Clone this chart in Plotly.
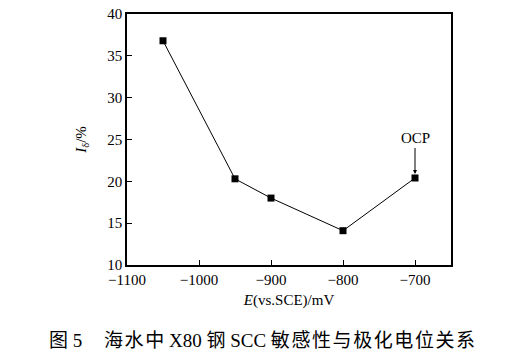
import plotly.graph_objects as go

potential_mV = [-1050, -950, -900, -800, -700]
i_delta_pct = [36.8, 20.3, 18.0, 14.1, 20.4]
x_ticks = [-1100, -1000, -900, -800, -700]
y_ticks = [10, 15, 20, 25, 30, 35, 40]

serif = "Liberation Serif, Times New Roman, serif"
caption_font = "Liberation Serif, Noto Sans CJK SC"
hs = "\u200a"

def spaced(s):
    return hs.join(s)

caption_label = "图 5"
caption_text = spaced("海水中") + " X80 钢 SCC " + spaced("敏感性与极化电位关系")

W, H = 510, 363
L, R, T, B = 127, 59, 14, 98
pw, ph = W - L - R, H - T - B

fig = go.Figure()
fig.add_trace(go.Scatter(
    x=potential_mV, y=i_delta_pct, mode="lines+markers",
    line=dict(color="black", width=1),
    marker=dict(symbol="square", size=7, color="black"),
    showlegend=False,
))

fig.add_annotation(
    x=-700, y=20.4, xref="x", yref="y",
    text="OCP", showarrow=True, arrowhead=2, arrowsize=0.8, arrowwidth=1,
    arrowcolor="black", ax=0, ay=-30, standoff=4, yanchor="bottom",
    font=dict(family=serif, size=15, color="black"),
)

cap_y = (H - B - 340) / ph
for txt, px in [(caption_label, 47), (caption_text, 102)]:
    fig.add_annotation(
        x=(px - L) / pw, y=cap_y, xref="paper", yref="paper", showarrow=False,
        xanchor="left", yanchor="middle", text=txt,
        font=dict(family=caption_font, size=19, color="black"),
    )

axis_common = dict(
    showline=True, linecolor="black", linewidth=1.5, mirror=True,
    ticks="inside", ticklen=5, tickwidth=1, tickcolor="black",
    showgrid=False, zeroline=False, automargin=False,
    tickfont=dict(family=serif, size=15, color="black"),
)

fig.update_xaxes(
    range=[-1100, -650], tickvals=x_ticks,
    ticktext=["\u2212" + str(abs(v)) for v in x_ticks],
    title=dict(text="<i>E</i>(vs.SCE)/mV", font=dict(family=serif, size=15, color="black"), standoff=8),
    **axis_common,
)
fig.update_yaxes(
    range=[10, 40], tickvals=y_ticks,
    title=dict(text="<i>I</i><sub>δ</sub>/%", font=dict(family=serif, size=15, color="black"), standoff=17),
    **axis_common,
)

fig.update_layout(
    width=W, height=H,
    margin=dict(l=L, r=R, t=T, b=B),
    paper_bgcolor="white", plot_bgcolor="white",
)

fig.write_html("out.html", config={"displayModeBar": False},
               post_script="document.body.style.margin='0';")
